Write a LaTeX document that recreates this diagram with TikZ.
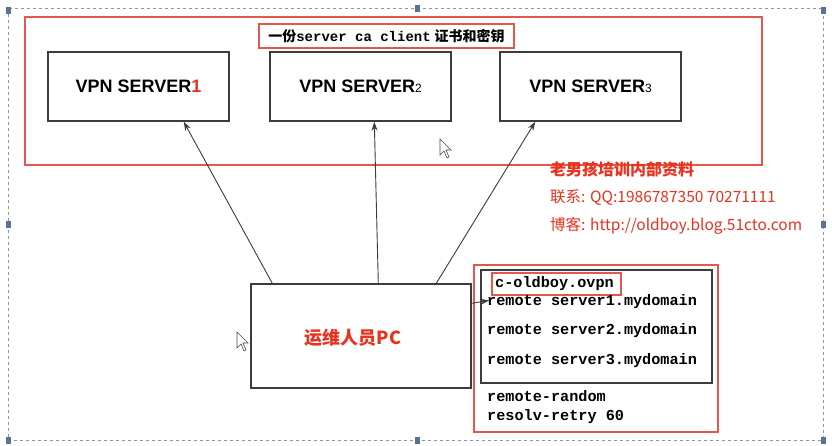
\documentclass[tikz,border=0pt]{standalone}
\usepackage{fontspec}
\setmainfont{Liberation Sans}
\newfontfamily\cjk{Noto Sans CJK SC}
\newfontfamily\monof{Liberation Mono}
\usetikzlibrary{arrows.meta}
\definecolor{redline}{HTML}{E4574C}
\definecolor{redtext}{HTML}{E8321E}
\definecolor{boxline}{HTML}{3C3C3C}
\definecolor{handle}{HTML}{5B7290}
\definecolor{frame}{HTML}{8A96A8}
\tikzset{
  redbox/.style={draw=redline, line width=1.2pt, inner sep=0pt},
  srvbox/.style={draw=boxline, line width=1.4pt, minimum width=181, minimum height=69, inner sep=0pt,
    font=\fontsize{18}{18}\selectfont\bfseries},
  pcbox/.style={draw=boxline, line width=1.4pt, minimum width=220, minimum height=104, inner sep=0pt},
  arr/.style={draw=boxline, line width=0.9pt, -{Stealth[length=9pt,width=6pt]}},
  cfg/.style={anchor=west, inner sep=0pt, font=\monof\bfseries\fontsize{15.2}{15.2}\selectfont},
  redtxt/.style={anchor=west, inner sep=0pt, text=redtext, font=\cjk\fontsize{15.5}{15.5}\selectfont},
  hdl/.style={fill=handle, draw=none},
  cursor/.style={fill=white, draw=black!70, line width=0.6pt}
}
\begin{document}
\begin{tikzpicture}[x=1pt,y=-1pt]
\useasboundingbox[fill=white] (0,0) rectangle (832,445);
% selection frame
\draw[frame, dashed, line width=0.6pt] (8,8) rectangle (823,440);
\foreach \hx/\hy in {8/10, 417/8, 823/10, 8/224, 823/224, 8/440, 417/440, 823/440}
  \fill[hdl] (\hx-2.5,\hy-3.5) rectangle (\hx+2.5,\hy+3.5);
% big red box
\node[redbox, minimum width=737, minimum height=148] (top) at (393.5,91) {};
\node[redbox, minimum width=255, minimum height=24,
  font=\fontsize{14}{14}\selectfont\bfseries] (title) at (386.5,36)
  {{\cjk 一份}{\monof server ca client} {\cjk 证书和密钥}};
% servers
\node[srvbox] (s1) at (138.5,86.5) {VPN SERVER\textcolor{redtext}{1}};
\node[srvbox] (s2) at (360.5,86.5) {VPN SERVER{\mdseries\fontsize{12}{12}\selectfont 2}};
\node[srvbox] (s3) at (590.5,86.5) {VPN SERVER{\mdseries\fontsize{12}{12}\selectfont 3}};
% red notes
\node[redtxt, font=\cjk\bfseries\fontsize{16}{16}\selectfont] (n1) at (550,169) {老男孩培训内部资料};
\node[redtxt] (n2) at (550,197) {联系: QQ:1986787350 70271111};
\node[redtxt] (n3) at (550,226) {博客: http://oldboy.blog.51cto.com};
% PC
\node[pcbox] (pc) at (361,336) {};
\node[inner sep=0pt, text=redtext, font=\cjk\bfseries\fontsize{18}{18}\selectfont] (pct) at (353,338) {运维人员PC};
% config
\node[redbox, minimum width=244, minimum height=167] (cfgbox) at (596,348.5) {};
\node[draw=boxline, line width=1.3pt, minimum width=231, minimum height=113, inner sep=0pt] (inner) at (596.5,326.5) {};
\node[redbox, minimum width=129, minimum height=22] (fname) at (556.5,284) {};
\node[cfg] (c0) at (495,284) {c-oldboy.ovpn};
\node[cfg] (c1) at (487,302) {remote server1.mydomain};
\node[cfg] (c2) at (487,331) {remote server2.mydomain};
\node[cfg] (c3) at (487,361) {remote server3.mydomain};
\node[cfg] (c4) at (487,396) {remote-random};
\node[cfg] (c5) at (487,417) {resolv-retry 60};
% arrows
\draw[arr] ([xshift=22pt]pc.north west) -- ([xshift=-46pt]s1.south east);
\draw[arr] ([xshift=128pt]pc.north west) -- ([xshift=105pt]s2.south west);
\draw[arr] ([xshift=186pt]pc.north west) -- ([xshift=36pt]s3.south west);
\draw[arr] ([yshift=-20pt]pc.north east) -- ([xshift=9pt,yshift=-31pt]inner.north west);
% cursors
\draw[cursor] (440,139) -- (440,155) -- (444,151) -- (447,158) -- (449,157) -- (446,150) -- (451,150) -- cycle;
\draw[cursor] (237,332) -- (237,348) -- (241,344) -- (244,351) -- (246,350) -- (243,343) -- (248,343) -- cycle;
\end{tikzpicture}
\end{document}
